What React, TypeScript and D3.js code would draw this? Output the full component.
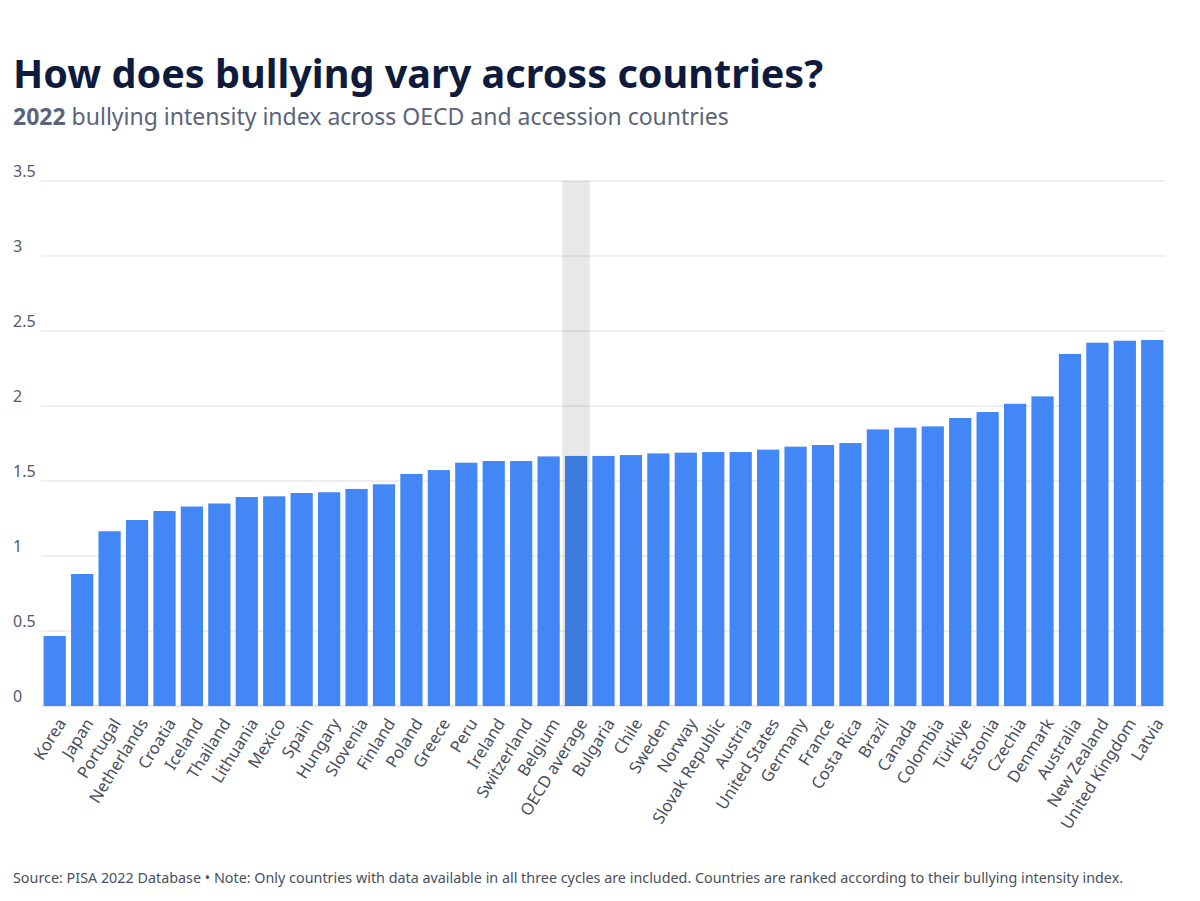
import React from "react";
import * as d3 from "d3";

const countries = [
  "Korea", "Japan", "Portugal", "Netherlands", "Croatia", "Iceland", "Thailand",
  "Lithuania", "Mexico", "Spain", "Hungary", "Slovenia", "Finland", "Poland",
  "Greece", "Peru", "Ireland", "Switzerland", "Belgium", "OECD average",
  "Bulgaria", "Chile", "Sweden", "Norway", "Slovak Republic", "Austria",
  "United States", "Germany", "France", "Costa Rica", "Brazil", "Canada",
  "Colombia", "Türkiye", "Estonia", "Czechia", "Denmark", "Australia",
  "New Zealand", "United Kingdom", "Latvia",
];

const values = [
  0.467, 0.88, 1.165, 1.24, 1.3, 1.33, 1.35,
  1.393, 1.398, 1.42, 1.425, 1.447, 1.478, 1.547,
  1.573, 1.622, 1.633, 1.633, 1.664, 1.667,
  1.667, 1.673, 1.684, 1.689, 1.693, 1.693,
  1.709, 1.729, 1.74, 1.753, 1.844, 1.856,
  1.864, 1.92, 1.96, 2.015, 2.064, 2.347,
  2.422, 2.435, 2.44,
];

const yTicks = [0, 0.5, 1, 1.5, 2, 2.5, 3, 3.5];
const highlighted = "OECD average";

const title = "How does bullying vary across countries?";
const subtitleBold = "2022";
const subtitleRest = " bullying intensity index across OECD and accession countries";
const footer =
  "Source: PISA 2022 Database • Note: Only countries with data available in all three cycles are included. Countries are ranked according to their bullying intensity index.";

const W = 1200;
const H = 901;
const FONT = "'Noto Sans', 'Open Sans', sans-serif";

export default function App() {
  const x = d3
    .scaleBand<string>()
    .domain(countries)
    .range([41, 1166])
    .paddingInner(0.19)
    .paddingOuter(0.095);
  const y = d3.scaleLinear().domain([0, 3.5]).range([706, 181]);

  const hx = x(highlighted)! - (x.step() - x.bandwidth()) / 2;

  return (
    <svg
      width={W}
      height={H}
      style={{ position: "absolute", left: 0, top: 0, background: "#fff" }}
      fontFamily={FONT}
    >
      <text x={13} y={88} fontSize={39.6} fontWeight={700} fill="#0e1b3d">
        {title}
      </text>
      <text x={13} y={125} fontSize={23} fill="#5b6479">
        <tspan fontWeight={700}>{subtitleBold}</tspan>
        <tspan>{subtitleRest}</tspan>
      </text>

      {yTicks.map((t) => (
        <g key={t}>
          <line
            x1={41}
            x2={1166}
            y1={y(t)}
            y2={y(t)}
            stroke={t === 0 ? "#d0d0da" : "#dcdce6"}
            strokeWidth={1}
          />
          <text x={13} y={y(t) - 4} fontSize={16} fill="#555a66">
            {String(t)}
          </text>
        </g>
      ))}

      {countries.map((c, i) => (
        <rect
          key={c}
          x={x(c)}
          y={y(values[i])}
          width={x.bandwidth()}
          height={y(0) - y(values[i])}
          fill="#4287f5"
        />
      ))}

      <rect
        x={hx}
        y={y(3.5)}
        width={x.step()}
        height={y(0) - y(3.5)}
        fill="#000"
        fillOpacity={0.09}
      />

      {countries.map((c) => {
        const cx = x(c)! + x.bandwidth() / 2;
        return (
          <text
            key={c}
            transform={`translate(${cx + 7},${720}) rotate(-58)`}
            textAnchor="end"
            dy="0.35em"
            fontSize={16.5}
            fill="#4a4f5c"
          >
            {c}
          </text>
        );
      })}

      <text x={13} y={883} fontSize={14.35} fill="#4a4f5c">
        {footer}
      </text>
    </svg>
  );
}
